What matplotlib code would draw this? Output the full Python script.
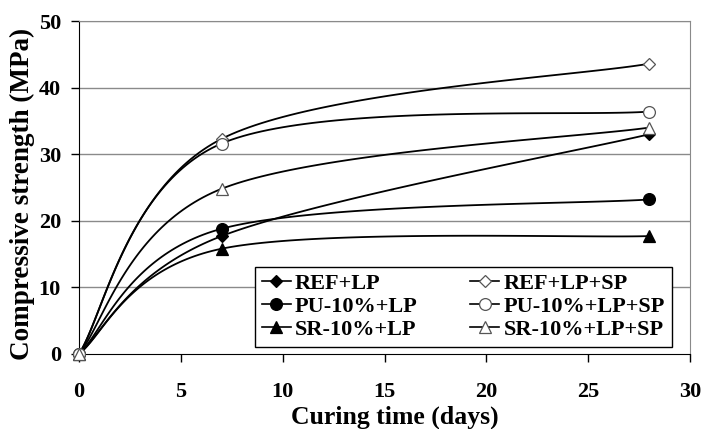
import numpy as np
import matplotlib
matplotlib.use("Agg")
import matplotlib.pyplot as plt
from matplotlib.lines import Line2D

plt.rcParams["font.family"] = ["Liberation Serif", "DejaVu Serif"]
plt.rcParams["font.weight"] = "bold"

days = [0, 7, 28]

series_names = [
    "REF+LP", "PU-10%+LP", "SR-10%+LP",
    "REF+LP+SP", "PU-10%+LP+SP", "SR-10%+LP+SP",
]
ref_lp = [0, 17.7, 33.0]
pu_lp = [0, 18.8, 23.2]
sr_lp = [0, 15.8, 17.7]
ref_lp_sp = [0, 32.3, 43.6]
pu_lp_sp = [0, 31.6, 36.4]
sr_lp_sp = [0, 24.8, 34.0]
series_values = [ref_lp, pu_lp, sr_lp, ref_lp_sp, pu_lp_sp, sr_lp_sp]

markers = ["D", "o", "^", "D", "o", "^"]
filled = [True, True, True, False, False, False]

x_ticks = [0, 5, 10, 15, 20, 25, 30]
y_ticks = [0, 10, 20, 30, 40, 50]

MARKER_SIZE = {"D": 6, "o": 8.5, "^": 9}


def smooth(xs, ys, n=60):
    # Excel-style smoothed line: cubic Bezier segments, Catmull-Rom tangents
    pts = np.column_stack([np.asarray(xs, float), np.asarray(ys, float)])
    out = []
    t = np.linspace(0, 1, n)[:, None]
    for i in range(len(pts) - 1):
        p0 = pts[max(i - 1, 0)]
        p1 = pts[i]
        p2 = pts[i + 1]
        p3 = pts[min(i + 2, len(pts) - 1)]
        c1 = p1 + (p2 - p0) / 6.0
        c2 = p2 - (p3 - p1) / 6.0
        seg = ((1 - t) ** 3) * p1 + 3 * t * (1 - t) ** 2 * c1 \
            + 3 * t ** 2 * (1 - t) * c2 + t ** 3 * p2
        out.append(seg if i == 0 else seg[1:])
    curve = np.vstack(out)
    return curve[:, 0], curve[:, 1]


fig = plt.figure(figsize=(7.05, 4.29), dpi=100)
ax = fig.add_axes([0.112, 0.175, 0.867, 0.776])

for yv in y_ticks[1:]:
    ax.axhline(yv, color="#8a8a8a", lw=1.0, zorder=1)

handles = []
for name, vals, mk, fl in zip(series_names, series_values, markers, filled):
    sx, sy = smooth(days, vals)
    ax.plot(sx, sy, color="black", lw=1.3, zorder=2)
    ms = MARKER_SIZE[mk]
    face = "black" if fl else "white"
    edge = "black" if fl else "#555555"
    ax.plot(days, vals, linestyle="none", marker=mk, ms=ms,
            markerfacecolor=face, markeredgecolor=edge, markeredgewidth=0.9,
            zorder=3, clip_on=False)
    handles.append(Line2D([], [], color="black", lw=1.2, marker=mk, ms=ms,
                          markerfacecolor=face, markeredgecolor=edge,
                          markeredgewidth=0.9, label=name))

ax.set_xlim(0, 30)
ax.set_ylim(0, 50)
ax.set_xticks(x_ticks)
ax.set_yticks(y_ticks)
ax.tick_params(axis="x", direction="out", length=6, width=1, pad=14,
               labelsize=16)
ax.tick_params(axis="y", direction="out", length=6, width=1, pad=7,
               labelsize=16)
for lab in ax.get_xticklabels() + ax.get_yticklabels():
    lab.set_fontweight("bold")

ax.spines["left"].set_color("black")
ax.spines["bottom"].set_color("black")
ax.spines["top"].set_color("#8a8a8a")
ax.spines["right"].set_color("#8a8a8a")

xlab = ax.set_xlabel("Curing time (days)", fontsize=18.5, fontweight="bold")
xlab.set_verticalalignment("baseline")
ax.xaxis.set_label_coords(0.517, -0.21)
ax.set_ylabel("Compressive strength (MPa)", fontsize=19.5, fontweight="bold")
ax.yaxis.set_label_coords(-0.072, 0.48)

leg = ax.legend(handles=handles, ncol=2, loc="lower left",
                bbox_to_anchor=(0.288, 0.021, 0.682, 0.231), mode="expand",
                fontsize=16, frameon=True, fancybox=False, edgecolor="black",
                framealpha=1, handlelength=1.3, handletextpad=0.2,
                labelspacing=0.12, borderpad=0.3, borderaxespad=0)
leg.get_frame().set_linewidth(1.0)
for txt in leg.get_texts():
    txt.set_fontweight("bold")
leg.set_zorder(4)

fig.savefig("out.png", dpi=100)
